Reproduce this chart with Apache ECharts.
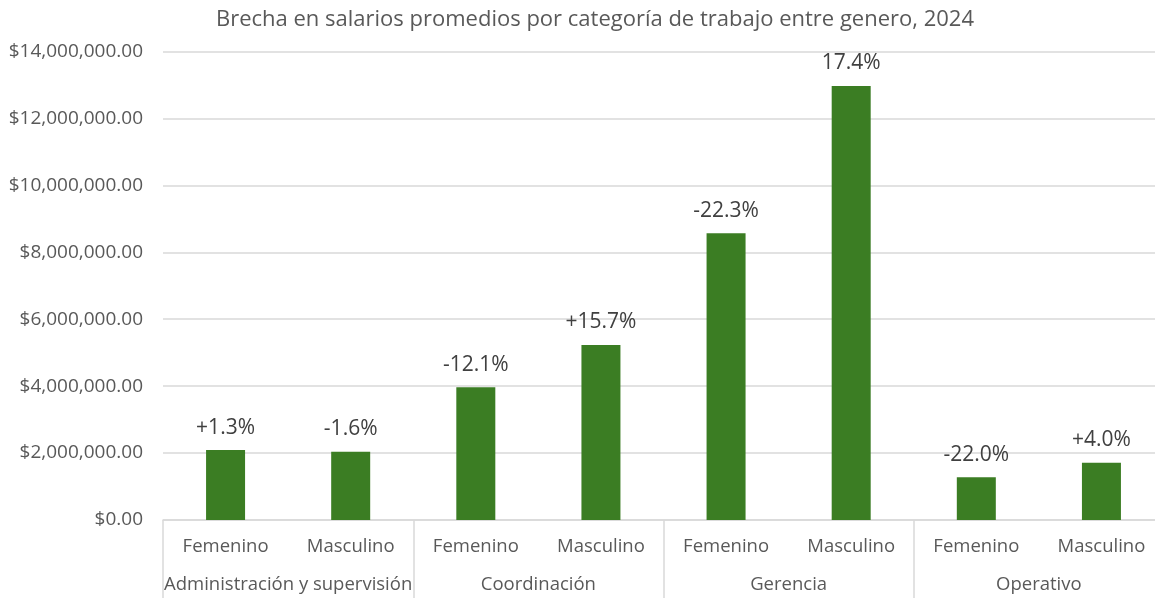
<!DOCTYPE html>
<html>
<head>
<meta charset="utf-8">
<script src="https://cdn.jsdelivr.net/npm/echarts@6/dist/echarts.min.js"></script>
<style>
  html, body { margin: 0; padding: 0; background: #fff; }
  #chart { width: 1155px; height: 598px; }
</style>
</head>
<body>
<div id="chart"></div>
<script>
var genders = ['Femenino', 'Masculino', 'Femenino', 'Masculino', 'Femenino', 'Masculino', 'Femenino', 'Masculino'];
var groups = ['Administración y supervisión', 'Coordinación', 'Gerencia', 'Operativo'];
var salaries = [2090000, 2040000, 3970000, 5230000, 8570000, 12970000, 1280000, 1710000];
var gaps = ['+1.3%', '-1.6%', '-12.1%', '+15.7%', '-22.3%', '17.4%', '-22.0%', '+4.0%'];

var myChart = echarts.init(document.getElementById('chart'));

var fontFamily = '"Open Sans", "Noto Sans", sans-serif';

function money(v) {
    return '$' + v.toLocaleString('en-US', { minimumFractionDigits: 2, maximumFractionDigits: 2 });
}

var option = {
    backgroundColor: '#ffffff',
    animation: false,
    textStyle: { fontFamily: fontFamily },
    title: {
        text: 'Brecha en salarios promedios por categoría de trabajo entre genero, 2024',
        left: 590,
        textAlign: 'center',
        top: 4,
        textStyle: {
            fontSize: 22,
            fontWeight: 'normal',
            color: '#595959',
            fontFamily: fontFamily
        }
    },
    grid: {
        left: 163,
        top: 51.5,
        width: 1001,
        bottom: 78,
        containLabel: false,
        outerBoundsMode: 'none'
    },
    xAxis: [{
        type: 'category',
        data: genders,
        position: 'bottom',
        axisLine: { show: true, lineStyle: { color: '#d9d9d9', width: 1.5 } },
        axisTick: { show: false },
        axisLabel: {
            interval: 0,
            margin: 17,
            fontSize: 18.5,
            color: '#595959',
            fontFamily: fontFamily
        }
    }, {
        type: 'category',
        data: groups,
        position: 'bottom',
        axisLine: { show: false },
        axisTick: {
            show: true,
            interval: 0,
            length: 80,
            lineStyle: { color: '#d9d9d9', width: 1.5 }
        },
        axisLabel: {
            interval: 0,
            margin: 55,
            fontSize: 18.5,
            color: '#595959',
            fontFamily: fontFamily
        }
    }],
    yAxis: {
        type: 'value',
        min: 0,
        max: 14000000,
        interval: 2000000,
        axisLine: { show: false },
        axisTick: { show: false },
        splitLine: { lineStyle: { color: '#d9d9d9', width: 1.5 } },
        axisLabel: {
            margin: 20,
            fontSize: 19,
            color: '#595959',
            fontFamily: fontFamily,
            formatter: money
        }
    },
    series: [{
        type: 'bar',
        xAxisIndex: 0,
        data: salaries,
        barWidth: 39,
        itemStyle: { color: '#3B7D23' },
        label: {
            show: true,
            position: 'top',
            distance: 12,
            fontSize: 21,
            color: '#404040',
            fontFamily: fontFamily,
            formatter: function (p) { return gaps[p.dataIndex]; }
        }
    }]
};

myChart.setOption(option);
</script>
</body>
</html>
